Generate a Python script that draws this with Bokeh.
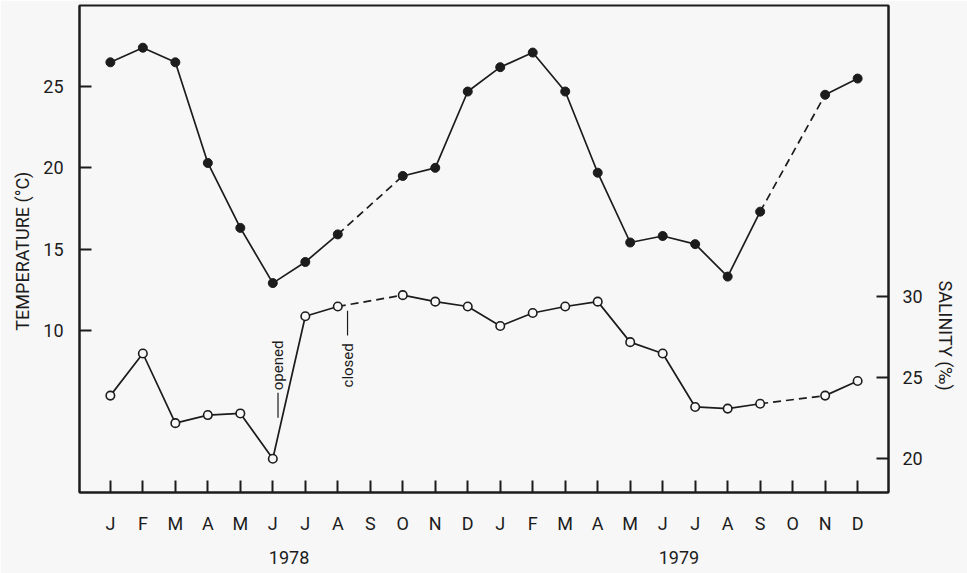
import math
from bokeh.plotting import figure
from bokeh.models import Range1d, LinearAxis, FixedTicker, Label, Title
from bokeh.embed import file_html
from bokeh.resources import INLINE

# ---------------- data ----------------
months = ["J", "F", "M", "A", "M", "J", "J", "A", "S", "O", "N", "D"] * 2
years = ["1978", "1979"]
nan = float("nan")
temperature = [26.5, 27.4, 26.5, 20.3, 16.3, 12.9, 14.2, 15.9, nan, 19.5, 20.0, 24.7,
               26.2, 27.1, 24.7, 19.7, 15.4, 15.8, 15.3, 13.3, 17.3, nan, 24.5, 25.5]
salinity = [23.9, 26.5, 22.2, 22.7, 22.8, 20.0, 28.8, 29.4, nan, 30.1, 29.7, 29.4,
            28.2, 29.0, 29.4, 29.7, 27.2, 26.5, 23.2, 23.1, 23.4, nan, 23.9, 24.8]
temp_ticks = [10, 15, 20, 25]
sal_ticks = [20, 25, 30]
events = ["opened", "closed"]
event_month = [5, 7]   # June 1978 (opened), August 1978 (closed)

x = list(range(len(months)))

# ---------------- style ----------------
INK = "#1c1c1c"
BG = "#f7f7f7"
FONT = "Roboto"

p = figure(width=967, height=573, output_backend="svg", toolbar_location=None,
           x_range=Range1d(-0.95, 23.95), y_range=Range1d(0, 30),
           min_border_left=79, min_border_right=79, min_border_top=5, min_border_bottom=81,
           background_fill_color=BG, border_fill_color=BG,
           outline_line_color=INK, outline_line_width=2)
p.extra_y_ranges = {"sal": Range1d(17.92, 47.98)}
p.grid.visible = False


def style_axis(ax):
    ax.axis_line_color = INK
    ax.axis_line_width = 2
    ax.major_tick_line_color = INK
    ax.major_tick_line_width = 2
    ax.major_tick_in = 12
    ax.major_tick_out = 0
    ax.minor_tick_line_color = None
    ax.major_label_text_font = FONT
    ax.major_label_text_font_size = "18px"
    ax.major_label_text_color = INK
    ax.axis_label_text_font = FONT
    ax.axis_label_text_font_size = "18px"
    ax.axis_label_text_font_style = "normal"
    ax.axis_label_text_color = INK


# bottom month axis
xax = p.xaxis[0]
style_axis(xax)
xax.ticker = FixedTicker(ticks=x)
xax.major_label_overrides = {i: m for i, m in zip(x, months)}
xax.major_label_standoff = 20

# year axis below
yr_pos = [5.5, 17.5]
yax2 = LinearAxis(ticker=FixedTicker(ticks=yr_pos),
                  major_label_overrides={v: t for v, t in zip(yr_pos, years)})
style_axis(yax2)
yax2.axis_line_color = None
yax2.major_tick_line_color = None
yax2.major_label_standoff = 14
p.add_layout(yax2, "below")

# left temperature axis
lax = p.yaxis[0]
style_axis(lax)
lax.ticker = FixedTicker(ticks=temp_ticks)
lax.major_label_standoff = 16
lax.axis_label = "TEMPERATURE  (°C)"
lax.axis_label_standoff = 7

# right salinity axis
rax = LinearAxis(y_range_name="sal", ticker=FixedTicker(ticks=sal_ticks))
style_axis(rax)
rax.major_label_standoff = 14
p.add_layout(rax, "right")

p.add_layout(Title(text="SALINITY  (‰)", align="left", offset=275, standoff=18,
                   text_font=FONT, text_font_size="18px", text_font_style="normal",
                   text_color=INK), "right")


# ---------------- series ----------------
def draw_series(vals, y_range_name, filled):
    kw = {} if y_range_name is None else {"y_range_name": y_range_name}
    p.line(x, vals, line_color=INK, line_width=1.7, **kw)
    for i, v in enumerate(vals):
        if math.isnan(v) and 0 < i < len(vals) - 1:
            p.line([x[i - 1], x[i + 1]], [vals[i - 1], vals[i + 1]],
                   line_color=INK, line_width=1.7, line_dash="8 5", **kw)
    xs = [xi for xi, v in zip(x, vals) if not math.isnan(v)]
    ys = [v for v in vals if not math.isnan(v)]
    if filled:
        p.scatter(xs, ys, size=9, fill_color=INK, line_color=INK, **kw)
    else:
        p.scatter(xs, ys, size=8.5, fill_color=BG, line_color=INK, line_width=1.6, **kw)


draw_series(temperature, None, True)
draw_series(salinity, "sal", False)

# ---------------- event annotations (rotated) ----------------
# opened: leader line below text; closed: leader line above text
p.segment(x0=[event_month[0] + 0.16], y0=[4.6], x1=[event_month[0] + 0.16], y1=[6.15],
          line_color=INK, line_width=1.2)
p.add_layout(Label(x=event_month[0] + 0.15, y=6.3, text=events[0], angle=math.pi / 2,
                   text_align="left", text_baseline="middle",
                   text_font=FONT, text_font_size="15px", text_color=INK))
p.segment(x0=[event_month[1] + 0.3], y0=[9.67], x1=[event_month[1] + 0.3], y1=[11.2],
          line_color=INK, line_width=1.2)
p.add_layout(Label(x=event_month[1] + 0.3, y=6.47, text=events[1], angle=math.pi / 2,
                   text_align="left", text_baseline="middle",
                   text_font=FONT, text_font_size="15px", text_color=INK))

open("out.html", "w").write(file_html(p, INLINE))
